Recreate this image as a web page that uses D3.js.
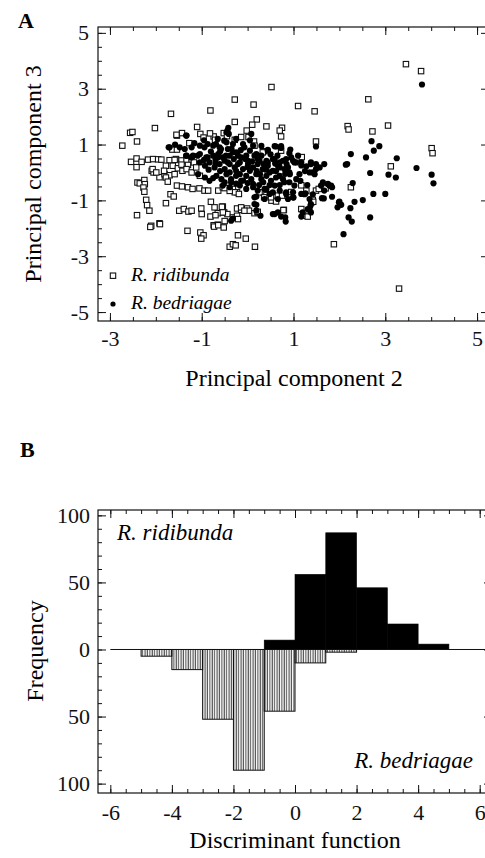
<!DOCTYPE html>
<html>
<head>
<meta charset="utf-8">
<script src="https://cdn.jsdelivr.net/npm/d3@7"></script>
<style>
  body { margin: 0; background: #fff; }
</style>
</head>
<body>
<script>
// ---- data: panel A, PCA scores (PC2, PC3) ----
var ridibundaPts = [
[3.45,3.88],[3.78,3.63],[0.52,3.06],[-0.28,2.61],[2.63,2.62],[-0.81,2.22],[0.13,2.43],[1.10,2.38],[1.46,2.19],[-1.67,2.10],
[-0.28,1.81],[0.20,1.90],[0.10,1.71],[0.41,1.65],[0.75,1.60],[2.18,1.66],[3.06,1.68],[-2.02,1.59],[-1.10,1.63],[0.73,1.29],
[-0.02,1.50],[0.02,1.27],[-0.14,1.27],[-0.28,1.17],[0.14,1.11],[0.15,0.96],[1.49,1.11],[2.72,1.47],[2.20,1.54],[0.70,1.50],
[-2.56,1.42],[-2.51,1.45],[-2.41,1.11],[-2.73,0.96],[-1.54,1.32],[-1.43,1.41],[-0.74,1.29],[-0.71,1.17],[-0.52,1.41],[-1.27,1.05],
[-1.55,1.35],[-1.03,1.38],[-0.96,1.25],[-0.82,1.40],[-0.45,1.30],
[-1.64,0.82],[-1.54,0.82],[-2.54,0.38],[-2.42,0.50],[-2.31,0.38],[-2.17,0.46],[-2.06,0.48],[-1.95,0.47],[-1.88,0.46],[-1.56,0.48],
[-1.70,0.44],[-1.59,0.45],[-1.44,0.43],[-1.33,0.44],[-1.22,0.46],[-2.42,0.19],[-2.09,0.06],[-2.05,0.00],[-1.92,-0.17],[-2.07,0.12],
[-1.99,0.00],[-1.81,-0.06],[-1.70,-0.10],[-1.59,-0.06],[-1.78,0.24],[-1.63,0.24],[-1.52,0.15],[-1.41,0.22],[-1.30,0.27],[-1.82,0.06],
[-1.44,0.28],[-1.42,0.06],[-1.33,0.12],[-1.22,0.00],[-1.17,0.36],[-1.12,0.18],[-1.04,-0.12],
[-2.40,-0.36],[-2.35,-0.39],[-2.25,-0.27],[-2.24,-0.42],[-2.27,-0.54],[-2.25,-0.69],[-1.78,-0.18],
[-1.74,-0.33],[-1.54,-0.47],[-1.43,-0.50],[-1.30,-0.53],[-1.20,-0.59],[-1.05,-0.57],[-0.94,-0.65],[-0.86,-0.65],[-0.64,-0.65],[-0.54,-0.53],
[-0.32,-0.59],[-0.23,-0.71],[-1.68,-0.78],[-1.61,-0.86],[-2.21,-0.98],[-2.19,-1.17],[-2.14,-1.37],[-1.78,-1.10],[-2.41,-1.53],[-1.92,-1.82],
[-2.10,-1.91],[-1.49,-1.37],[-1.39,-1.31],[-1.29,-1.40],[-1.22,-1.37],[-1.01,-1.29],[-1.00,-1.49],[-0.80,-1.05],[-0.72,-1.25],[-0.65,-1.46],
[-0.74,-1.89],[-0.65,-1.87],[-0.54,-1.22],[-0.51,-1.43],[-0.81,-1.58],[-0.70,-1.53],[-0.56,-1.23],[-0.44,-1.49],[-0.32,-1.61],[-0.23,-1.55],
[-0.23,-1.29],[-0.14,-1.34],[-0.01,-1.29],[0.03,-1.37],[-0.28,-0.71],[-0.19,-0.77],[0.15,-1.46],[0.22,-1.43],
[-2.12,-1.95],[-1.91,-1.85],[-1.31,-2.09],[-1.03,-2.15],[-0.96,-2.25],[-1.01,-2.37],[-0.73,-1.94],[-0.64,-1.89],[-0.52,-1.97],[-0.39,-2.66],
[-0.32,-2.57],[-0.26,-2.61],[-0.21,-2.25],[-0.04,-2.37],[0.16,-2.66],[1.88,-2.57],[3.30,-4.16],
[3.12,0.22],[4.01,0.87],[4.03,0.69],[2.25,-0.53],[1.17,-0.46],[1.49,-0.65],[1.28,-0.65],[1.55,-0.59],[1.70,-0.57],[1.42,-0.98],
[1.39,-1.07],[1.17,-1.31],[1.28,-1.55],[1.31,-1.58],[1.43,-1.05],[0.79,-1.34],[0.95,-0.70],[0.66,-0.83],[0.52,-1.01],[0.62,-1.04],
[0.34,-0.71],[0.41,-0.81],[0.22,-1.41],[-0.14,-1.25],[-0.07,-1.37],[-0.21,-1.67],[-0.50,-0.56],[-0.39,-0.66],[-0.54,-1.43],[-0.50,-1.74],
[1.18,0.55],[0.73,0.78],[0.35,0.76],[0.33,0.72],[0.75,-0.83],[0.26,-0.71],[0.36,-0.89],[0.51,-0.89],[0.78,-1.35]
];

var bedriagaePts = [
[3.80,3.15],[-0.42,1.60],[-1.34,1.32],[-1.16,1.05],[-1.72,0.90],[-1.58,1.00],[-1.33,1.32],[-0.44,1.50],[-0.41,1.38],[-0.46,1.44],
[0.08,1.38],[-0.10,1.02],[-0.94,0.90],[-0.87,1.02],[-0.69,1.02],[-0.58,0.84],[-0.51,1.14],[-1.09,0.60],[-0.87,0.54],[-0.65,0.54],
[-0.47,0.60],[-1.34,0.60],[-1.23,0.54],[-1.70,0.90],[-1.48,0.90],[-1.37,0.84],[-1.22,0.90],[-1.04,0.96],[-0.75,0.96],[-0.61,0.90],
[-0.46,1.08],[-0.32,1.02],[-0.07,0.90],[0.12,0.96],[0.44,0.78],[0.59,0.94],[0.73,0.94],[0.93,0.82],[0.84,0.48],[0.95,0.54],
[1.02,0.36],[0.62,0.93],[0.73,0.88],[0.44,0.81],[0.91,0.69],[1.49,0.93],[-0.43,0.84],[-0.32,0.72],[-0.21,0.60],[-0.03,0.60],
[0.19,0.66],[0.22,0.48],[0.01,0.42],[0.59,0.48],[0.77,0.42],[0.99,0.42],[1.17,0.36],[1.38,0.36],[1.67,0.30],
[-1.33,0.60],[-1.19,0.60],[-1.04,0.66],[-0.90,0.54],[-0.75,0.60],[-0.64,0.66],[-0.54,0.54],[-0.39,0.60],[-0.25,0.72],[-0.14,0.54],
[0.15,0.60],[0.26,0.42],[0.41,0.42],[0.55,0.48],[0.70,0.36],[1.17,0.25],[1.28,0.22],[1.38,0.30],[1.49,0.30],
[-1.04,0.36],[-0.93,0.24],[-0.83,0.36],[-0.72,0.18],[-0.61,0.30],[-0.50,0.12],[-0.39,0.30],[-0.28,0.18],[-0.17,0.36],[-0.10,0.12],
[0.01,0.30],[0.12,0.18],[0.22,0.30],[0.33,0.12],[0.44,0.24],[0.55,0.06],[0.70,0.18],[0.80,0.12],[0.91,0.00],[1.13,-0.06],
[1.42,0.00],[1.46,-0.06],[1.57,0.18],
[-1.08,-0.06],[-0.93,-0.18],[-0.83,-0.30],[-0.68,-0.12],[-0.57,-0.24],[-0.46,-0.06],[-0.36,-0.24],[-0.25,-0.12],[-0.14,-0.30],[-0.03,-0.12],
[0.08,-0.24],[0.19,-0.06],[0.30,-0.24],[0.41,-0.12],[0.51,-0.30],[0.62,-0.18],[0.77,-0.24],[0.91,-0.35],[1.06,-0.24],[1.64,-0.35],
[1.75,-0.41],[1.84,-0.53],
[-0.54,-0.47],[-0.39,-0.53],[-0.17,-0.47],[-0.03,-0.59],[0.12,-0.53],[0.22,-0.65],[0.41,-0.59],[0.55,-0.71],[0.70,-0.65],[0.84,-0.77],
[0.99,-0.71],[1.26,-0.75],[1.78,-0.47],
[0.15,-0.89],[0.37,-0.95],[0.48,-0.77],[0.66,-0.95],[0.99,-0.89],[1.17,-0.77],[1.35,-0.95],[1.38,-1.13],[1.31,-1.31],[1.38,-1.43],
[1.17,-1.58],[1.62,-0.92],[1.84,-0.87],[1.99,-1.07],[1.96,-1.25],
[0.15,-1.13],[0.19,-1.37],[0.28,-1.55],[0.55,-1.49],[0.66,-1.43],[0.73,-1.58],[0.83,-1.76],[-0.32,-1.65],
[2.09,-2.21],[2.20,-1.61],[2.27,-1.76],[2.67,-1.61],[2.33,-1.05],[2.51,-0.99],[2.74,-0.77],[3.00,-0.77],[2.29,-0.38],[2.67,-0.02],
[3.07,-0.08],[3.23,-0.18],[2.17,0.30],[2.25,0.66],[2.58,0.54],[3.25,0.51],[2.70,1.12],[2.75,0.78],[2.87,0.94],[3.68,0.16],
[4.01,-0.08],[4.05,-0.39],
[-0.43,0.36],[-0.21,0.30],[0.44,0.36],[0.66,0.24],[0.88,0.18],[1.06,0.36],[-0.39,0.00],[-0.17,-0.06],[0.05,0.06],[0.27,-0.06],
[0.48,0.00],[0.70,-0.12],[0.92,-0.06],[1.35,0.00],[1.49,0.12],[-0.36,-0.35],[-0.10,-0.29],[0.12,-0.41],[0.34,-0.35],[0.59,-0.47],
[0.80,-0.35],[1.02,-0.47],[0.37,-0.59],[1.24,-0.78],[1.42,-0.78],[1.60,-0.47],[1.67,-0.65],[1.82,-0.47],[1.66,-0.93],[2.00,-1.04],
[2.04,-1.16],[2.24,-1.28],[2.14,0.28],[0.82,-1.61],[0.59,-1.49],[0.19,-1.16],[0.19,-0.86],[-0.36,-1.73],[0.88,-0.95],[0.84,-0.71],
[1.00,-0.90],[1.20,-1.43],[1.35,-1.31],[1.37,-1.19],
[-0.80,0.75],[-0.60,0.75],[-0.35,0.85],[-0.15,0.80],[0.05,0.78],[0.30,0.60],[0.50,0.65],[0.65,0.60],[-0.95,0.45],[-0.70,0.45],
[-0.50,0.42],[-0.30,0.48],[-0.05,0.48],[0.10,0.40],[0.35,0.30],[0.60,0.32],[0.85,0.30],[-0.85,0.10],[-0.60,0.05],[-0.25,0.05],
[0.00,0.20],[0.20,0.05],[0.40,0.10],[0.62,0.05],[0.82,-0.05],[-0.75,-0.20],[-0.50,-0.35],[-0.25,-0.40],[0.00,-0.38],[0.25,-0.45],
[0.48,-0.45],[0.70,-0.45],[-0.70,0.30],[0.05,1.15],[0.30,0.95],[-0.25,1.20],[-0.65,1.20],[-0.95,1.15],[1.10,0.60],[1.25,0.05],
[1.15,-0.30],[1.30,-0.45]
];

// ---- data: panel B, histogram of discriminant scores (bin start, count) ----
var binStarts     = [-5, -4, -3, -2, -1, 0, 1, 2, 3, 4];
var ridibundaFreq = [0, 0, 0, 0, 7, 56, 87, 46, 19, 4];   // drawn upward, black
var bedriagaeFreq = [5, 15, 52, 90, 46, 10, 2, 0, 0, 0];  // drawn downward, hatched

// ---- tick labels ----
var xTicksA = [-3, -1, 1, 3, 5];
var yTicksA = [-5, -3, -1, 1, 3, 5];
var xTicksB = [-6, -4, -2, 0, 2, 4, 6];
var yTicksB = [-100, -50, 0, 50, 100];

var serif = '"Liberation Serif", "Times New Roman", Times, serif';
var width = 485, height = 858;
var svg = d3.select("body").append("svg")
    .attr("width", width)
    .attr("height", height)
    .attr("font-family", serif);

// hatch pattern for the lower bars
svg.append("defs").append("pattern")
    .attr("id", "vhatch")
    .attr("patternUnits", "userSpaceOnUse")
    .attr("width", 2.4)
    .attr("height", 6)
  .append("line")
    .attr("x1", 1).attr("y1", 0).attr("x2", 1).attr("y2", 6)
    .attr("stroke", "#222")
    .attr("stroke-width", 0.9);

// 画四周带内向刻度的框
function drawFrame(x, y, xMajor, xMinor, yMajor, yMinor, yFmt, xPad, yPad) {
    var x0 = x.range()[0], x1 = x.range()[1];
    var y0 = y.range()[0], y1 = y.range()[1];
    var strip = g => g.attr("font-family", serif).select(".domain").remove();

    // bottom
    svg.append("g").attr("transform", `translate(0,${y0})`)
        .call(d3.axisBottom(x).tickValues(xMinor).tickSize(-4).tickFormat("")).call(strip);
    svg.append("g").attr("class", "lab").attr("transform", `translate(0,${y0})`)
        .call(d3.axisBottom(x).tickValues(xMajor).tickSize(-8).tickPadding(xPad).tickFormat(d => String(d))).call(strip);
    // top
    svg.append("g").attr("transform", `translate(0,${y1})`)
        .call(d3.axisTop(x).tickValues(xMinor).tickSize(-4).tickFormat("")).call(strip);
    svg.append("g").attr("transform", `translate(0,${y1})`)
        .call(d3.axisTop(x).tickValues(xMajor).tickSize(-8).tickFormat("")).call(strip);
    // left
    svg.append("g").attr("transform", `translate(${x0},0)`)
        .call(d3.axisLeft(y).tickValues(yMinor).tickSize(-4).tickFormat("")).call(strip);
    svg.append("g").attr("class", "lab").attr("transform", `translate(${x0},0)`)
        .call(d3.axisLeft(y).tickValues(yMajor).tickSize(-8).tickPadding(yPad).tickFormat(yFmt)).call(strip);
    // right
    svg.append("g").attr("transform", `translate(${x1},0)`)
        .call(d3.axisRight(y).tickValues(yMinor).tickSize(-4).tickFormat("")).call(strip);
    svg.append("g").attr("transform", `translate(${x1},0)`)
        .call(d3.axisRight(y).tickValues(yMajor).tickSize(-8).tickFormat("")).call(strip);

    svg.append("rect")
        .attr("x", x0).attr("y", y1)
        .attr("width", x1 - x0).attr("height", y0 - y1)
        .attr("fill", "none").attr("stroke", "#111").attr("stroke-width", 1.2);
}

// ================= Panel A =================
var xA = d3.scaleLinear().domain([-3.26, 5.26]).range([98, 489]);
var yA = d3.scaleLinear().domain([-5.32, 5.21]).range([321, 27]);

svg.append("text").attr("x", 18).attr("y", 28)
    .style("font-size", "22px").style("font-weight", "bold").text("A");

// squares: R. ridibunda
svg.append("g").selectAll("rect")
    .data(ridibundaPts)
    .join("rect")
    .attr("x", d => xA(d[0]) - 2.7)
    .attr("y", d => yA(d[1]) - 2.7)
    .attr("width", 5.4).attr("height", 5.4)
    .attr("fill", "#fff").attr("stroke", "#111").attr("stroke-width", 1.1);

// dots: R. bedriagae
svg.append("g").selectAll("circle")
    .data(bedriagaePts)
    .join("circle")
    .attr("cx", d => xA(d[0]))
    .attr("cy", d => yA(d[1]))
    .attr("r", 3.1)
    .attr("fill", "#000");

drawFrame(xA, yA, xTicksA, d3.range(-3, 5.01, 0.5), yTicksA, d3.range(-5, 5.01, 0.5),
    d => String(d), 9, 9);

// legend
svg.append("rect").attr("x", 110.3).attr("y", 273).attr("width", 5.4).attr("height", 5.4)
    .attr("fill", "#fff").attr("stroke", "#111").attr("stroke-width", 1.1);
svg.append("circle").attr("cx", 113).attr("cy", 304).attr("r", 2.6).attr("fill", "#000");
svg.append("text").attr("x", 131).attr("y", 281).style("font-size", "19.5px")
    .style("font-style", "italic").text("R. ridibunda");
svg.append("text").attr("x", 131).attr("y", 309).style("font-size", "19.5px")
    .style("font-style", "italic").text("R. bedriagae");

svg.append("text").attr("x", 294).attr("y", 386).attr("text-anchor", "middle")
    .style("font-size", "24px").text("Principal component 2");
svg.append("text").attr("transform", "translate(41,174) rotate(-90)").attr("text-anchor", "middle")
    .style("font-size", "24px").text("Principal component 3");

// ================= Panel B =================
var xB = d3.scaleLinear().domain([-6.4, 6.4]).range([98, 492]);
var yB = d3.scaleLinear().domain([-107, 104]).range([793, 510]);

svg.append("text").attr("x", 20).attr("y", 457)
    .style("font-size", "22px").style("font-weight", "bold").text("B");

var bins = binStarts.map((s, i) => ({start: s, up: ridibundaFreq[i], down: bedriagaeFreq[i]}));

// 下方的条纹柱
svg.append("g").selectAll("rect")
    .data(bins.filter(d => d.down > 0))
    .join("rect")
    .attr("x", d => xB(d.start))
    .attr("y", yB(0))
    .attr("width", d => xB(d.start + 1) - xB(d.start))
    .attr("height", d => yB(-d.down) - yB(0))
    .attr("fill", "url(#vhatch)")
    .attr("stroke", "#111").attr("stroke-width", 1);

// 上方的黑色柱
svg.append("g").selectAll("rect")
    .data(bins.filter(d => d.up > 0))
    .join("rect")
    .attr("x", d => xB(d.start))
    .attr("y", d => yB(d.up))
    .attr("width", d => xB(d.start + 1) - xB(d.start))
    .attr("height", d => yB(0) - yB(d.up))
    .attr("fill", "#000").attr("stroke", "#000").attr("stroke-width", 0.6);

// zero line
svg.append("line")
    .attr("x1", xB(-6)).attr("x2", xB(6.4))
    .attr("y1", yB(0)).attr("y2", yB(0))
    .attr("stroke", "#111").attr("stroke-width", 1);

drawFrame(xB, yB, xTicksB, d3.range(-6, 6.01, 0.5), yTicksB, d3.range(-100, 100.1, 10),
    d => String(Math.abs(d)), 11, 8);

svg.append("text").attr("x", 117).attr("y", 540).style("font-size", "23px")
    .style("font-style", "italic").text("R. ridibunda");
svg.append("text").attr("x", 473).attr("y", 768).attr("text-anchor", "end").style("font-size", "23px")
    .style("font-style", "italic").text("R. bedriagae");

svg.append("text").attr("x", 295).attr("y", 848).attr("text-anchor", "middle")
    .style("font-size", "24px").text("Discriminant function");
svg.append("text").attr("transform", "translate(43,651) rotate(-90)").attr("text-anchor", "middle")
    .style("font-size", "24px").text("Frequency");

// tick label style
svg.selectAll(".lab text").style("font-size", "22px").attr("fill", "#111");
svg.selectAll(".tick line").attr("stroke", "#111");
svg.selectAll("text").style("font-family", serif);
</script>
</body>
</html>
